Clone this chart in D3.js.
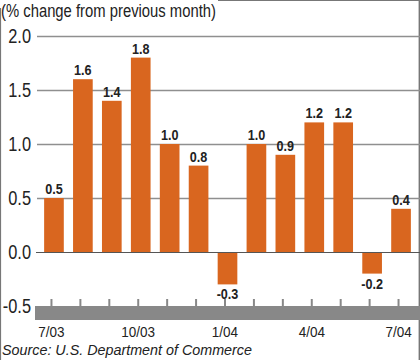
<!DOCTYPE html>
<html>
<head>
<meta charset="utf-8">
<script src="https://cdn.jsdelivr.net/npm/d3@7"></script>
<style>
  html, body { margin: 0; padding: 0; background: #fff; }
  svg { display: block; }
  text { font-family: "Liberation Sans", Arial, sans-serif; }
</style>
</head>
<body>
<svg id="chart" width="420" height="360"></svg>
<script>
const months = ["7/03","8/03","9/03","10/03","11/03","12/03","1/04","2/04","3/04","4/04","5/04","6/04","7/04"];
const values = [0.5, 1.6, 1.4, 1.8, 1.0, 0.8, -0.3, 1.0, 0.9, 1.2, 1.2, -0.2, 0.4];
const valueLabels = ["0.5","1.6","1.4","1.8","1.0","0.8","-0.3","1.0","0.9","1.2","1.2","-0.2","0.4"];
const xTickLabels = ["7/03","10/03","1/04","4/04","7/04"];
const yTicks = [2.0, 1.5, 1.0, 0.5, 0.0, -0.5];
const title = "(% change from previous month)";
const source = "Source:  U.S. Department of Commerce";

const svg = d3.select("#chart");
const W = 420, H = 360;
const orange = "#D9661F";

// condense text horizontally to mimic a condensed typeface
function condense(sel, factor) {
  sel.each(function() {
    const w = this.getComputedTextLength();
    d3.select(this).attr("textLength", w * factor).attr("lengthAdjust", "spacingAndGlyphs");
  });
}

const x = d3.scaleBand().domain(months).range([39.5, 415.5]).paddingInner(0.32).paddingOuter(0.16);
const y = d3.scaleLinear().domain([-0.5, 2.0]).range([306, 36]);

// frame
svg.append("line").attr("x1", 0.5).attr("x2", 0.5).attr("y1", 8).attr("y2", H).attr("stroke", "#777").attr("stroke-width", 1.2);
svg.append("line").attr("x1", 218).attr("x2", W).attr("y1", 0.5).attr("y2", 0.5).attr("stroke", "#777").attr("stroke-width", 1.2);
svg.append("line").attr("x1", W - 0.7).attr("x2", W - 0.7).attr("y1", 0).attr("y2", H).attr("stroke", "#777").attr("stroke-width", 1.4);

// gridlines
svg.append("g").selectAll("line").data(yTicks.filter(d => d > 0)).join("line")
  .attr("x1", 37).attr("x2", W).attr("y1", d => Math.round(y(d)) + 0.5).attr("y2", d => Math.round(y(d)) + 0.5)
  .attr("stroke", "#8f8f8f").attr("stroke-width", 1.3);

// bars
svg.append("g").selectAll("rect").data(values).join("rect")
  .attr("x", (d, i) => x(months[i]))
  .attr("width", x.bandwidth())
  .attr("y", d => y(Math.max(0, d)))
  .attr("height", d => Math.abs(y(d) - y(0)))
  .attr("fill", orange);

// zero line
svg.append("line").attr("x1", 36).attr("x2", W).attr("y1", y(0) + 0.5).attr("y2", y(0) + 0.5)
  .attr("stroke", "#555").attr("stroke-width", 1.2);

// bottom gray band at -0.5
svg.append("rect").attr("x", 35).attr("y", y(-0.5)).attr("width", W - 35).attr("height", 14).attr("fill", "#888");

// ticks
svg.append("g").selectAll("line").data(months).join("line")
  .attr("x1", d => x(d) + x.bandwidth() / 2 - 2.5).attr("x2", d => x(d) + x.bandwidth() / 2 - 2.5)
  .attr("y1", y(-0.5) - 7).attr("y2", y(-0.5))
  .attr("stroke", "#888").attr("stroke-width", 2);

// y labels
svg.append("g").selectAll("text").data(yTicks).join("text")
  .attr("x", 31).attr("y", d => y(d) + 7)
  .attr("text-anchor", "end").attr("font-size", 19.5).attr("fill", "#222")
  .text(d => d.toFixed(1))
  .call(condense, 0.84);

// x labels
svg.append("g").selectAll("text").data(xTickLabels).join("text")
  .attr("x", d => x(d) + x.bandwidth() / 2 - 2.5).attr("y", 337)
  .attr("text-anchor", "middle").attr("font-size", 15).attr("fill", "#222")
  .text(d => d)
  .call(condense, 0.9);

// value labels
svg.append("g").selectAll("text").data(values).join("text")
  .attr("x", (d, i) => x(months[i]) + x.bandwidth() / 2)
  .attr("y", d => d >= 0 ? y(d) - 4 : y(d) + 15)
  .attr("text-anchor", "middle").attr("font-size", 14).attr("font-weight", "bold").attr("fill", "#222")
  .text((d, i) => valueLabels[i])
  .call(condense, 0.9);

// title
svg.append("text")
  .attr("x", 1).attr("y", 17).attr("font-size", 17.5).attr("fill", "#222")
  .attr("textLength", 215).attr("lengthAdjust", "spacingAndGlyphs")
  .text(title);

// source
svg.append("text")
  .attr("x", 2).attr("y", 355).attr("font-size", 14.5).attr("font-style", "italic").attr("fill", "#222")
  .attr("textLength", 250).attr("lengthAdjust", "spacingAndGlyphs")
  .text(source);
</script>
</body>
</html>
